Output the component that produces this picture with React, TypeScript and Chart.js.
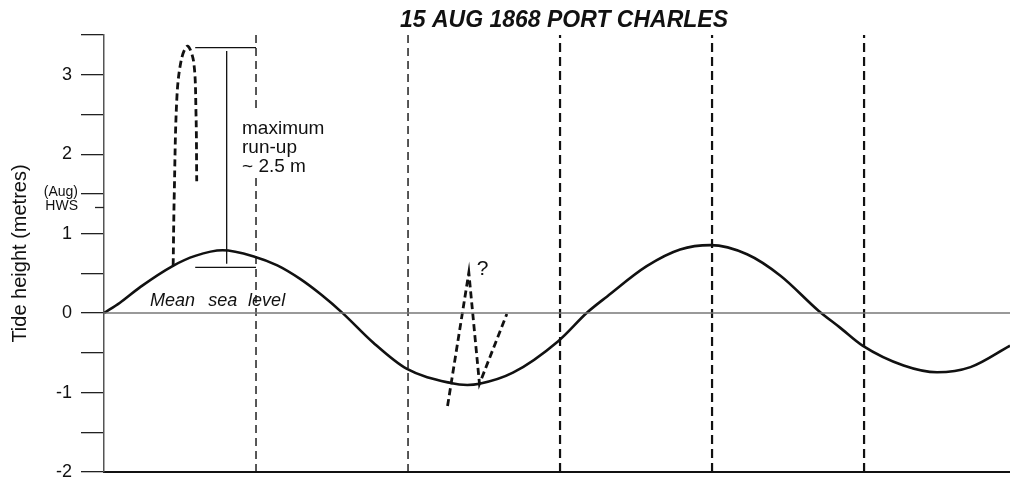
import React, { useEffect, useRef } from "react";
import { Chart, registerables } from "chart.js";

Chart.register(...registerables);

const FONT = '"Liberation Sans", Arial, Helvetica, sans-serif';

// x axis: time, one unit per dashed marker interval (no labels shown)
const xMin = 0;
const xMax = 5.96;
const yMin = -2;
const yMax = 3.5;
const yStep = 0.5;

// Tide curve
const tideX = [0, 0.105, 0.24, 0.454, 0.6, 0.78, 0.99, 1.14, 1.29, 1.43, 1.57, 1.77, 1.99, 2.28, 2.39, 2.47, 2.69, 2.99, 3.18, 3.31, 3.57, 3.79, 3.99, 4.23, 4.45, 4.7, 4.84, 4.99, 5.26, 5.48, 5.7, 5.96];
const tideY = [0, 0.13, 0.33, 0.595, 0.72, 0.79, 0.71, 0.6, 0.43, 0.23, 0, -0.37, -0.7, -0.88, -0.905, -0.89, -0.75, -0.35, 0.01, 0.21, 0.59, 0.8, 0.855, 0.74, 0.47, 0.03, -0.18, -0.41, -0.66, -0.745, -0.68, -0.41];

// Maximum run-up trace (dashed)
const runupX = [0.455, 0.462, 0.48, 0.51, 0.55, 0.59, 0.605, 0.61];
const runupY = [0.6, 1.48, 2.73, 3.2, 3.36, 3.16, 2.53, 1.66];

// Uncertain second wave trace (dashed)
const waveX = [2.26, 2.4, 2.47, 2.65];
const waveY = [-1.17, 0.51, -0.89, -0.01];

// Vertical dashed time markers
const thinMarkers = [1, 2];
const thickMarkers = [3, 4, 5];

// Run-up bracket
const bracketLeft = 0.6;
const bracketRight = 1.0;
const bracketTopY = 3.34;
const bracketBottomY = 0.575;
const bracketStemX = 0.807;
const bracketStemTop = 3.3;
const bracketStemBottom = 0.62;

// HWS marker
const hwsLevel = 1.33;

const titleText = "15 AUG 1868 PORT CHARLES";
const yTitle = "Tide height (metres)";
const runupLabel = ["maximum", "run-up", "~ 2.5 m"];
const runupLabelY = [2.25, 2.01, 1.77];
const mslWords = ["Mean", "sea", "level"];

const zip = (xs: number[], ys: number[]) => xs.map((x, i) => ({ x, y: ys[i] }));

const annotations = {
  id: "annotations",
  afterDatasetsDraw(chart: any) {
    const { ctx, chartArea } = chart;
    const xs = chart.scales.x;
    const ys = chart.scales.y;
    ctx.save();
    // white box behind run-up label (interrupts the dashed marker)
    const lx = xs.getPixelForValue(0.908);
    const top = ys.getPixelForValue(2.52);
    const bot = ys.getPixelForValue(1.7);
    ctx.fillStyle = "#fff";
    ctx.fillRect(lx - 2, top, 90, bot - top);

    ctx.fillStyle = "#111";
    // title
    ctx.font = `italic bold 23px ${FONT}`;
    ctx.textAlign = "center";
    ctx.textBaseline = "middle";
    ctx.fillText(titleText, 564, 21);

    // run-up label
    ctx.font = `19px ${FONT}`;
    ctx.textAlign = "left";
    ctx.textBaseline = "alphabetic";
    runupLabel.forEach((t, i) => ctx.fillText(t, lx, ys.getPixelForValue(runupLabelY[i])));

    // question mark
    ctx.font = `21px ${FONT}`;
    ctx.textAlign = "center";
    ctx.textBaseline = "middle";
    ctx.fillText("?", xs.getPixelForValue(2.49), ys.getPixelForValue(0.55));

    // Mean sea level
    ctx.font = `italic 18px ${FONT}`;
    ctx.textAlign = "left";
    ctx.textBaseline = "alphabetic";
    const wx = [0.303, 0.685, 0.948];
    mslWords.forEach((w, i) => ctx.fillText(w, xs.getPixelForValue(wx[i]), ys.getPixelForValue(0.09)));

    // (Aug) HWS
    ctx.font = `14px ${FONT}`;
    ctx.textAlign = "right";
    ctx.textBaseline = "middle";
    ctx.fillText("(Aug)", chartArea.left - 26, ys.getPixelForValue(1.52));
    ctx.fillText("HWS", chartArea.left - 26, ys.getPixelForValue(1.34));

    // HWS short tick
    ctx.strokeStyle = "#222";
    ctx.lineWidth = 1.3;
    ctx.beginPath();
    const hy = Math.round(ys.getPixelForValue(hwsLevel)) + 0.5;
    ctx.moveTo(chartArea.left - 9, hy);
    ctx.lineTo(chartArea.left, hy);
    ctx.stroke();
    ctx.restore();
  },
};

export default function App() {
  const ref = useRef<HTMLCanvasElement>(null);
  useEffect(() => {
    if (!ref.current) return;
    const markerSet = (xs: number[], thick: boolean) =>
      xs.map((x) => ({
        data: [{ x, y: yMin }, { x, y: yMax }],
        borderColor: "#111",
        borderWidth: thick ? 2.2 : 1.4,
        borderDash: thick ? [9, 5] : [8, 5],
        pointRadius: 0,
        tension: 0,
      }));
    const chart = new Chart(ref.current, {
      type: "line",
      data: {
        datasets: [
          {
            data: [{ x: xMin, y: 0 }, { x: xMax, y: 0 }],
            borderColor: "#777",
            borderWidth: 1.5,
            pointRadius: 0,
          },
          ...markerSet(thinMarkers, false),
          ...markerSet(thickMarkers, true),
          { data: [{ x: bracketLeft, y: bracketTopY }, { x: bracketRight, y: bracketTopY }], borderColor: "#111", borderWidth: 1.3, pointRadius: 0 },
          { data: [{ x: bracketStemX, y: bracketStemTop }, { x: bracketStemX, y: bracketStemBottom }], borderColor: "#111", borderWidth: 1.3, pointRadius: 0 },
          { data: [{ x: bracketLeft, y: bracketBottomY }, { x: bracketRight, y: bracketBottomY }], borderColor: "#111", borderWidth: 1.3, pointRadius: 0 },
          {
            data: zip(runupX, runupY),
            borderColor: "#111",
            borderWidth: 2.8,
            borderDash: [7, 4],
            pointRadius: 0,
            tension: 0.35,
          },
          {
            data: zip(waveX, waveY),
            borderColor: "#111",
            borderWidth: 2.8,
            borderDash: [7, 4],
            pointRadius: 0,
            tension: 0,
          },
          {
            data: zip(tideX, tideY),
            borderColor: "#111",
            borderWidth: 2.6,
            pointRadius: 0,
            cubicInterpolationMode: "monotone",
          },
        ],
      },
      options: {
        responsive: false,
        animation: false,
        layout: { padding: { top: 35, bottom: 11, left: 0, right: 0 } },
        plugins: { legend: { display: false }, tooltip: { enabled: false }, title: { display: false } },
        scales: {
          x: {
            type: "linear",
            min: xMin,
            max: xMax,
            ticks: { display: false },
            grid: { display: false },
            border: { display: true, color: "#111", width: 2 },
            afterFit: (s: any) => {
              s.height = 0;
              s.paddingLeft = 0;
              s.paddingRight = 0;
            },
          },
          y: {
            type: "linear",
            min: yMin,
            max: yMax,
            ticks: {
              stepSize: yStep,
              autoSkip: false,
              padding: 9,
              color: "#111",
              font: { family: FONT, size: 18 },
              callback: (v: any) => (Number.isInteger(v) ? String(v) : ""),
            },
            grid: { display: true, drawOnChartArea: false, drawTicks: true, tickLength: 23, color: "#222", lineWidth: 1.3 },
            border: { display: true, color: "#555", width: 1.5 },
            title: { display: true, text: yTitle, color: "#111", font: { family: FONT, size: 20 }, padding: { top: 8, bottom: 0 } },
            afterFit: (s: any) => {
              s.width = 104;
              s.paddingTop = 0;
              s.paddingBottom = 0;
            },
          },
        },
      },
      plugins: [annotations],
    });
    return () => chart.destroy();
  }, []);
  return (
    <div style={{ position: "absolute", left: 0, top: 0, width: 1010, height: 483, background: "#fff" }}>
      <canvas ref={ref} width={1010} height={483} />
    </div>
  );
}
